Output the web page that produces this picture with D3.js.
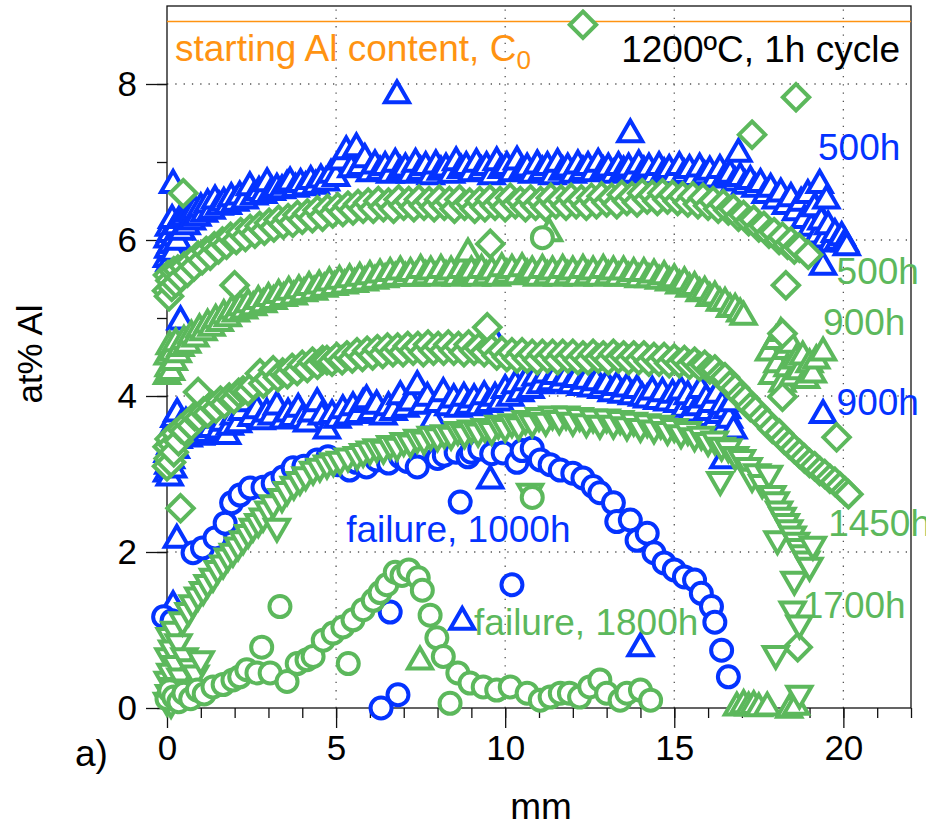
<!DOCTYPE html>
<html>
<head>
<meta charset="utf-8">
<script src="https://cdn.jsdelivr.net/npm/d3@7"></script>
<style>
  html, body { margin: 0; padding: 0; background: #fff; }
  svg { display: block; font-family: "Liberation Sans", Arial, Helvetica, sans-serif; }
</style>
</head>
<body>
<svg id="chart" width="926" height="824"></svg>
<script>
// Al concentration profiles (at% Al) across the specimen, 1200 °C, 1 h cycles.
// Each series is a list of [mm, at% Al] measurements.

const startingAl = 8.8;

const blue500h = [
  [0.00,5.80],[0.02,6.05],[0.04,5.92],[0.06,6.20],[0.08,5.75],[0.10,6.12],[0.12,5.98],[0.15,6.30],[0.18,6.75],[0.20,5.88],
  [0.24,6.08],[0.28,6.22],[0.32,6.02],[0.38,6.30],[0.40,5.00],[0.44,6.15],[0.50,6.33],[0.58,6.22],[0.66,6.38],[0.74,6.28],
  [0.82,6.42],[0.90,6.33],[1.00,6.45],[1.10,6.38],[1.20,6.50],[1.32,6.42],[1.42,6.55],[1.55,6.47],[1.68,6.52],[1.80,6.48],
  [1.90,6.58],[2.02,6.52],[2.15,6.60],[2.30,6.55],[2.45,6.72],[2.58,6.60],[2.72,6.66],[2.85,6.62],[2.96,6.77],[3.10,6.66],
  [3.25,6.70],[3.40,6.68],[3.55,6.74],[3.64,6.78],[3.80,6.70],[3.95,6.76],[4.10,6.72],[4.25,6.80],[4.40,6.74],[4.55,6.82],
  [4.70,6.78],[4.85,6.88],[5.00,6.84],[5.15,7.05],[5.30,7.18],[5.45,6.95],[5.60,7.22],[5.72,6.98],[5.85,7.08],[6.00,6.90],
  [6.15,7.00],[6.30,6.92],[6.45,6.98],[6.60,6.88],[6.75,7.02],[6.80,7.90],[6.90,6.92],[7.05,6.96],[7.20,6.88],[7.35,7.02],
  [7.50,6.92],[7.65,6.98],[7.80,6.86],[7.95,7.00],[8.10,6.92],[8.25,6.96],[8.40,6.88],[8.55,7.04],[8.70,6.94],[8.85,6.98],
  [9.00,6.90],[9.15,7.02],[9.30,6.92],[9.45,6.98],[9.60,6.86],[9.75,7.04],[9.90,6.94],[10.05,6.98],[10.20,6.90],[10.35,7.05],
  [10.50,6.92],[10.65,6.96],[10.80,6.88],[10.95,7.00],[11.10,6.92],[11.25,6.98],[11.40,6.86],[11.55,7.02],[11.70,6.92],[11.85,6.96],
  [12.00,6.88],[12.15,7.00],[12.30,6.92],[12.45,6.98],[12.60,6.90],[12.75,7.02],[12.90,6.92],[13.05,6.96],[13.20,6.88],[13.35,6.98],
  [13.50,6.92],[13.65,6.96],[13.70,7.40],[13.80,6.88],[13.95,7.00],[14.10,6.92],[14.25,6.96],[14.40,6.86],[14.55,6.98],[14.70,6.90],
  [14.85,6.94],[15.00,6.86],[15.15,6.98],[15.30,6.88],[15.45,6.94],[15.60,6.84],[15.75,6.96],[15.90,6.86],[16.05,6.92],[16.20,6.82],
  [16.35,6.94],[16.50,6.84],[16.65,6.88],[16.80,6.78],[16.90,7.15],[16.95,6.84],[17.10,6.74],[17.25,6.80],[17.40,6.70],[17.55,6.76],
  [17.70,6.62],[17.85,6.70],[18.00,6.55],[18.15,6.64],[18.30,6.48],[18.45,6.58],[18.60,6.40],[18.75,6.52],[18.85,6.30],[18.95,6.62],
  [19.05,6.20],[19.15,6.45],[19.25,6.10],[19.30,6.75],[19.35,6.28],[19.40,5.70],[19.45,6.05],[19.50,6.55],[19.55,6.22],[19.65,6.00],
  [19.75,6.12],[19.85,6.02],[19.95,6.08],[20.05,6.00],[20.10,5.95]
];

const blue900h = [
  [0.00,3.05],[0.02,3.30],[0.04,3.15],[0.06,3.50],[0.08,3.00],[0.10,3.40],[0.12,3.22],[0.15,3.62],[0.18,3.10],[0.22,3.75],
  [0.26,3.35],[0.30,3.82],[0.34,3.48],[0.40,3.66],[0.48,3.55],[0.56,3.70],[0.64,3.50],[0.77,3.73],[0.88,3.60],[1.00,3.52],
  [1.10,3.68],[1.18,3.56],[1.30,3.62],[1.42,3.74],[1.55,3.60],[1.66,3.70],[1.78,3.53],[1.86,3.65],[1.98,3.78],[2.10,3.68],
  [2.22,3.84],[2.37,3.95],[2.50,3.76],[2.66,3.86],[2.80,3.72],[2.95,3.82],[3.10,3.78],[3.25,3.91],[3.43,3.73],[3.58,3.82],
  [3.72,3.76],[3.88,3.88],[4.00,3.74],[4.14,3.69],[4.28,3.82],[4.44,3.95],[4.58,3.78],[4.73,3.60],[4.88,3.80],[5.04,3.74],
  [5.20,3.86],[5.35,3.78],[5.50,3.90],[5.65,3.80],[5.80,3.94],[5.90,3.99],[6.05,3.84],[6.20,3.92],[6.40,3.78],[6.55,3.90],
  [6.70,3.84],[6.90,4.04],[7.05,3.88],[7.20,3.96],[7.40,4.17],[7.55,3.92],[7.70,4.02],[7.87,3.73],[8.00,3.94],[8.17,4.08],
  [8.32,3.90],[8.48,4.00],[8.62,3.88],[8.78,4.02],[8.92,3.92],[9.08,4.00],[9.22,3.90],[9.38,4.04],[9.52,3.94],[9.67,4.76],
  [9.70,4.02],[9.85,3.96],[10.00,4.12],[10.15,4.02],[10.30,4.18],[10.45,4.08],[10.60,4.22],[10.75,4.12],[10.90,4.28],[11.05,4.18],
  [11.20,4.32],[11.35,4.22],[11.50,4.30],[11.65,4.20],[11.80,4.28],[11.95,4.18],[12.10,4.26],[12.25,4.16],[12.40,4.24],[12.55,4.14],
  [12.70,4.22],[12.85,4.12],[13.00,4.18],[13.15,4.08],[13.30,4.16],[13.45,4.06],[13.60,4.14],[13.75,4.04],[13.90,4.12],[14.05,4.02],
  [14.20,4.00],[14.35,4.10],[14.50,3.98],[14.65,4.08],[14.80,3.96],[14.95,4.06],[15.10,3.94],[15.20,4.10],[15.30,3.88],[15.40,4.04],
  [15.50,3.82],[15.60,3.98],[15.70,3.90],[15.78,4.12],[15.86,3.76],[15.94,4.00],[16.02,3.84],[16.10,3.94],[16.18,3.70],[16.26,4.06],
  [16.34,3.80],[16.42,3.92],[16.50,3.66],[16.56,3.86],[16.62,3.74],[16.70,3.95],[16.75,3.60],[16.45,3.22],[19.40,3.80],
  [0.29,2.20],[0.18,1.35],[9.56,2.96],[8.73,1.15],[14.00,0.81]
];

const blueFailure1000h = [
  [-0.10,1.17],[0.15,1.12],[0.77,1.99],[1.05,2.05],[1.42,2.18],[1.72,2.37],[1.91,2.63],[2.16,2.73],[2.46,2.82],[2.84,2.83],
  [3.14,2.88],[3.43,2.96],[3.73,3.08],[4.05,3.10],[4.44,3.18],[4.76,3.22],[5.05,3.12],[5.40,3.05],[5.60,3.15],[5.90,3.09],
  [6.20,3.18],[6.55,3.14],[6.90,3.22],[7.10,3.16],[7.40,3.09],[7.90,3.30],[8.00,3.20],[8.20,3.24],[8.55,3.28],[8.90,3.22],
  [9.00,3.28],[9.25,3.32],[9.60,3.26],[9.94,3.27],[10.35,3.15],[10.50,3.30],[10.80,3.33],[11.04,3.18],[11.33,3.12],[11.63,3.05],
  [12.00,3.01],[12.30,2.95],[12.60,2.84],[12.80,2.76],[13.20,2.63],[13.30,2.39],[13.70,2.41],[13.90,2.15],[14.20,2.24],[14.40,1.99],
  [14.70,1.86],[15.00,1.77],[15.30,1.68],[15.60,1.64],[15.80,1.47],[16.10,1.30],[16.20,1.10],[16.40,0.74],[16.60,0.40],
  [8.67,2.64],[10.20,1.58],[6.33,0.00],[6.83,0.17],[6.60,1.23]
];

const green500h = [
  [0.00,5.35],[0.03,5.55],[0.06,5.28],[0.10,5.48],[0.14,5.40],[0.20,5.60],[0.26,5.45],[0.32,5.62],[0.40,5.52],[0.48,6.60],
  [0.50,5.66],[0.60,5.58],[0.70,5.72],[0.80,5.66],[0.92,5.80],[1.04,5.74],[1.16,5.86],[1.28,5.80],[1.40,5.92],[1.52,5.88],
  [1.64,5.98],[1.76,5.94],[1.88,6.04],[2.00,5.42],[2.05,6.00],[2.18,6.10],[2.32,6.04],[2.46,6.14],[2.60,6.08],[2.74,6.18],
  [2.88,6.12],[3.02,6.22],[3.16,6.16],[3.30,6.26],[3.44,6.20],[3.58,6.28],[3.72,6.22],[3.86,6.32],[4.00,6.26],[4.15,6.34],
  [4.30,6.28],[4.45,6.38],[4.60,6.30],[4.75,6.40],[4.90,6.34],[5.05,6.42],[5.20,6.36],[5.35,6.44],[5.50,6.38],[5.65,6.46],
  [5.80,6.40],[5.95,6.48],[6.10,6.40],[6.25,6.50],[6.40,6.42],[6.55,6.48],[6.70,6.40],[6.85,6.52],[7.00,6.44],[7.15,6.50],
  [7.30,6.42],[7.45,6.52],[7.60,6.44],[7.75,6.50],[7.90,6.42],[8.05,6.52],[8.20,6.44],[8.35,6.50],[8.50,6.40],[8.65,6.52],
  [8.80,6.44],[8.95,6.48],[9.10,6.40],[9.25,6.50],[9.40,6.42],[9.56,5.95],[9.55,6.52],[9.70,6.44],[9.85,6.50],[10.00,6.42],
  [10.15,6.54],[10.30,6.46],[10.45,6.50],[10.60,6.42],[10.75,6.52],[10.90,6.44],[11.05,6.50],[11.20,6.42],[11.35,6.54],[11.50,6.46],
  [11.65,6.52],[11.80,6.44],[11.95,6.54],[12.10,6.46],[12.25,6.52],[12.30,8.76],[12.40,6.44],[12.55,6.54],[12.70,6.46],[12.85,6.56],
  [13.00,6.48],[13.15,6.54],[13.30,6.46],[13.45,6.58],[13.60,6.50],[13.75,6.56],[13.90,6.48],[14.05,6.60],[14.20,6.52],[14.35,6.58],
  [14.50,6.50],[14.65,6.60],[14.80,6.52],[14.95,6.58],[15.10,6.50],[15.25,6.56],[15.40,6.48],[15.55,6.56],[15.70,6.46],[15.85,6.54],
  [16.00,6.44],[16.15,6.50],[16.30,6.40],[16.45,6.46],[16.60,6.38],[16.75,6.40],[16.90,6.30],[17.05,6.32],[17.20,6.24],[17.30,7.35],
  [17.35,6.26],[17.50,6.16],[17.65,6.18],[17.80,6.08],[17.95,6.10],[18.10,6.00],[18.20,6.04],[18.30,5.42],[18.35,5.94],[18.45,5.98],
  [18.55,5.88],[18.60,7.83],[18.70,5.90],[18.96,5.81]
];

const green900h = [
  [0.00,4.30],[0.02,4.55],[0.05,4.40],[0.08,4.68],[0.12,4.35],[0.16,4.60],[0.20,4.48],[0.26,4.72],[0.32,4.58],[0.40,4.66],
  [0.50,4.75],[0.60,4.70],[0.72,4.82],[0.84,4.78],[0.96,4.90],[1.08,4.86],[1.20,4.96],[1.32,4.92],[1.44,5.02],[1.56,4.98],
  [1.68,5.08],[1.80,5.04],[1.92,5.14],[2.04,5.10],[2.16,5.18],[2.28,5.14],[2.40,5.22],[2.55,5.18],[2.70,5.26],[2.85,5.22],
  [3.00,5.30],[3.15,5.26],[3.30,5.34],[3.45,5.30],[3.60,5.38],[3.75,5.32],[3.90,5.40],[4.05,5.36],[4.20,5.44],[4.35,5.38],
  [4.50,5.46],[4.65,5.42],[4.80,5.50],[4.95,5.44],[5.10,5.52],[5.25,5.46],[5.40,5.54],[5.55,5.48],[5.70,5.56],[5.85,5.50],
  [6.00,5.58],[6.15,5.52],[6.30,5.60],[6.45,5.54],[6.60,5.62],[6.75,5.56],[6.90,5.64],[7.05,5.56],[7.20,5.62],[7.35,5.56],
  [7.50,5.66],[7.65,5.58],[7.80,5.64],[7.95,5.56],[8.10,5.66],[8.25,5.58],[8.40,5.64],[8.55,5.56],[8.70,5.66],[8.85,5.60],
  [8.90,5.87],[9.00,5.64],[9.15,5.56],[9.30,5.66],[9.45,5.58],[9.60,5.64],[9.75,5.56],[9.90,5.68],[10.05,5.60],[10.20,5.66],
  [10.35,5.58],[10.50,5.68],[10.65,5.60],[10.80,5.64],[10.95,5.56],[11.10,5.66],[11.25,5.58],[11.30,6.13],[11.40,5.64],[11.55,5.56],
  [11.70,5.66],[11.85,5.58],[12.00,5.64],[12.15,5.56],[12.30,5.66],[12.45,5.58],[12.60,5.64],[12.75,5.56],[12.90,5.66],[13.05,5.58],
  [13.20,5.64],[13.35,5.56],[13.50,5.64],[13.65,5.56],[13.80,5.62],[13.95,5.54],[14.10,5.62],[14.25,5.54],[14.40,5.60],[14.55,5.52],
  [14.70,5.58],[14.85,5.50],[15.00,5.54],[15.15,5.46],[15.30,5.50],[15.45,5.42],[15.60,5.44],[15.75,5.36],[15.90,5.38],[16.05,5.30],
  [16.20,5.32],[16.35,5.24],[16.50,5.24],[16.65,5.16],[16.80,5.16],[16.95,5.10],[17.05,5.06],
  [17.80,4.60],[17.90,4.30],[18.00,4.75],[18.05,4.45],[18.15,4.85],[18.20,4.20],[18.30,4.62],[18.35,4.40],[18.45,4.70],[18.50,4.28],
  [18.60,4.50],[18.70,4.36],[18.80,4.55],[18.90,4.25],[19.00,4.45],[19.10,4.32],[19.20,4.50],[19.40,4.60],
  [7.48,0.64],[16.85,0.05],[17.05,0.08],[17.20,0.05],[17.35,0.07],[17.50,0.04],[17.75,0.05],[18.40,0.02],[18.60,0.06]
];

const green1450h = [
  [0.00,3.10],[0.02,3.35],[0.05,3.20],[0.08,3.45],[0.12,3.15],[0.16,3.38],[0.20,3.28],[0.26,3.52],[0.34,3.42],[0.40,2.56],
  [0.42,3.58],[0.52,3.55],[0.62,3.66],[0.72,3.62],[0.82,3.74],[0.92,4.05],[0.95,3.72],[1.08,3.80],[1.20,3.78],[1.32,3.88],
  [1.45,3.84],[1.58,3.94],[1.70,3.90],[1.84,3.98],[1.98,3.96],[2.12,4.04],[2.25,4.07],[2.40,4.06],[2.55,4.14],[2.75,4.29],
  [2.85,4.16],[3.00,4.22],[3.14,4.33],[3.28,4.24],[3.42,4.30],[3.56,4.28],[3.70,4.36],[3.85,4.32],[4.00,4.40],[4.15,4.36],
  [4.30,4.44],[4.45,4.40],[4.60,4.46],[4.73,4.46],[4.88,4.44],[5.02,4.50],[5.18,4.46],[5.32,4.52],[5.48,4.48],[5.62,4.56],
  [5.78,4.50],[5.92,4.58],[6.08,4.52],[6.22,4.60],[6.38,4.54],[6.52,4.62],[6.68,4.56],[6.82,4.62],[6.98,4.56],[7.12,4.64],
  [7.28,4.58],[7.42,4.64],[7.58,4.56],[7.72,4.66],[7.88,4.58],[8.02,4.64],[8.18,4.58],[8.32,4.66],[8.48,4.58],[8.62,4.64],
  [8.78,4.56],[8.92,4.66],[9.08,4.58],[9.22,4.62],[9.38,4.56],[9.47,4.88],[9.60,4.60],[9.75,4.52],[9.90,4.58],[10.05,4.50],
  [10.20,4.56],[10.35,4.48],[10.50,4.56],[10.65,4.48],[10.80,4.54],[10.95,4.46],[11.10,4.54],[11.25,4.48],[11.40,4.54],[11.55,4.46],
  [11.70,4.54],[11.85,4.48],[12.00,4.54],[12.15,4.46],[12.30,4.52],[12.45,4.46],[12.60,4.54],[12.75,4.48],[12.90,4.52],[13.05,4.46],
  [13.20,4.54],[13.35,4.48],[13.50,4.52],[13.65,4.46],[13.80,4.52],[13.95,4.46],[14.10,4.52],[14.25,4.44],[14.40,4.50],[14.55,4.44],
  [14.70,4.50],[14.85,4.42],[15.00,4.48],[15.15,4.42],[15.30,4.46],[15.45,4.40],[15.60,4.44],[15.75,4.38],[15.90,4.40],[16.05,4.34],
  [16.20,4.34],[16.35,4.26],[16.50,4.24],[16.65,4.14],[16.80,4.10],[16.95,4.00],[17.10,3.96],[17.25,3.86],[17.40,3.82],[17.60,3.72],
  [17.75,3.66],[17.90,3.58],[18.10,3.52],[18.25,3.44],[18.40,3.38],[18.55,3.32],[18.70,3.26],[18.85,3.20],[19.00,3.14],[19.15,3.10],
  [19.30,3.04],[19.45,3.00],[19.60,2.94],[19.75,2.90],[19.90,2.84],[20.05,2.78],[20.15,2.74],
  [19.80,3.47],[18.20,3.99],[18.20,4.80],[18.65,0.78]
];

const green1700h = [
  [0.00,0.05],[0.02,0.32],[0.04,0.62],[0.06,0.15],[0.08,0.88],[0.10,0.42],[0.12,0.02],[0.15,0.72],[0.18,0.24],[0.22,0.96],
  [0.26,0.52],[0.30,0.10],[0.34,0.80],[0.40,0.36],[0.46,1.08],[0.52,0.62],[0.58,0.22],[0.64,1.20],[0.70,0.48],[0.76,1.30],
  [0.84,0.40],[0.92,1.40],[1.00,0.58],[1.07,1.47],[1.20,1.56],[1.36,1.64],[1.50,1.74],[1.66,1.81],[1.80,1.90],[1.95,1.96],
  [2.10,2.04],[2.25,2.12],[2.40,2.20],[2.54,2.28],[2.70,2.34],[2.84,2.41],[3.00,2.50],[3.14,2.58],[3.25,2.28],[3.40,2.66],
  [3.55,2.75],[3.75,2.82],[3.93,2.88],[4.10,2.94],[4.32,3.01],[4.52,3.05],[4.73,3.09],[4.92,3.12],[5.12,3.14],[5.35,3.18],
  [5.62,3.20],[5.80,3.24],[6.00,3.27],[6.20,3.30],[6.40,3.28],[6.60,3.34],[6.80,3.32],[7.00,3.38],[7.20,3.36],[7.40,3.42],
  [7.60,3.40],[7.80,3.46],[8.00,3.44],[8.20,3.48],[8.40,3.46],[8.60,3.52],[8.80,3.48],[9.00,3.54],[9.20,3.50],[9.40,3.56],
  [9.60,3.52],[9.80,3.60],[10.00,3.56],[10.20,3.62],[10.40,3.58],[10.60,3.66],[10.74,2.73],[10.80,3.62],[11.00,3.70],[11.20,3.64],
  [11.40,3.72],[11.60,3.66],[11.80,3.72],[12.00,3.64],[12.20,3.70],[12.40,3.62],[12.60,3.68],[12.80,3.60],[13.00,3.68],[13.20,3.60],
  [13.40,3.66],[13.60,3.58],[13.80,3.64],[14.00,3.56],[14.20,3.62],[14.40,3.54],[14.60,3.60],[14.80,3.52],[15.00,3.56],[15.20,3.48],
  [15.40,3.52],[15.60,3.44],[15.80,3.46],[16.00,3.38],[16.20,3.40],[16.36,2.88],[16.40,3.32],[16.60,3.30],[16.80,3.20],[17.00,3.16],
  [17.20,3.06],[17.30,2.92],[17.45,2.98],[17.60,2.84],[17.80,2.96],[17.90,2.70],[18.00,2.62],[18.05,2.12],[18.10,2.50],[18.20,2.42],
  [18.30,2.34],[18.40,2.26],[18.50,2.18],[18.55,1.60],[18.60,2.10],[18.70,2.02],[18.80,1.94],[18.90,1.86],[19.00,1.78],[19.10,2.05],
  [18.50,1.22],[18.70,1.04],[18.00,0.65],[18.70,0.14]
];

const greenFailure1800h = [
  [0.00,0.12],[0.08,0.22],[0.20,0.14],[0.35,0.08],[0.50,0.19],[0.70,0.12],[0.90,0.23],[1.10,0.18],[1.36,0.27],[1.66,0.30],
  [1.95,0.36],[2.15,0.40],[2.36,0.49],[2.66,0.45],[2.80,0.78],[3.05,0.45],[3.34,1.30],[3.55,0.34],[3.85,0.57],[4.14,0.62],
  [4.32,0.66],[4.62,0.87],[4.91,0.96],[5.20,1.04],[5.36,0.57],[5.50,1.13],[5.80,1.26],[6.10,1.38],[6.30,1.48],[6.50,1.58],
  [6.75,1.74],[6.95,1.70],[7.15,1.77],[7.43,1.67],[7.55,1.51],[7.78,1.19],[7.98,0.90],[8.17,0.66],[8.37,0.06],[8.60,0.45],
  [8.96,0.32],[9.35,0.27],[9.75,0.23],[10.15,0.27],[10.65,0.19],[10.80,2.70],[11.04,0.10],[11.10,6.03],[11.33,0.14],[11.63,0.19],
  [11.90,0.19],[12.20,0.14],[12.50,0.27],[12.80,0.36],[13.00,0.19],[13.40,0.10],[13.60,0.19],[14.00,0.23],[14.30,0.10]
];

const xTicks = [0, 5, 10, 15, 20];
const yTicks = [0, 2, 4, 6, 8];

// Series drawn in order; later ones sit on top.
const series = [
  { data: blue500h,          color: "#0433ff", marker: "triUp" },
  { data: blue900h,          color: "#0433ff", marker: "triUp" },
  { data: blueFailure1000h,  color: "#0433ff", marker: "circle" },
  { data: green500h,         color: "#5cb85c", marker: "diamond" },
  { data: green900h,         color: "#5cb85c", marker: "triUp" },
  { data: green1450h,        color: "#5cb85c", marker: "diamond" },
  { data: green1700h,        color: "#5cb85c", marker: "triDown" },
  { data: greenFailure1800h, color: "#5cb85c", marker: "circle" }
];

// Series labels, anchored in data units (left edge, baseline).
const seriesLabels = [
  { text: "500h",           x: 19.25, y: 7.03, color: "#0433ff" },
  { text: "500h",           x: 19.80, y: 5.44, color: "#5cb85c" },
  { text: "900h",           x: 19.40, y: 4.78, color: "#5cb85c" },
  { text: "900h",           x: 19.80, y: 3.76, color: "#0433ff" },
  { text: "1450h",          x: 19.55, y: 2.20, color: "#5cb85c" },
  { text: "1700h",          x: 18.80, y: 1.15, color: "#5cb85c" },
  { text: "failure, 1000h", x: 5.30,  y: 2.13, color: "#0433ff" },
  { text: "failure, 1800h", x: 9.08,  y: 0.94, color: "#5cb85c" }
];

const svg = d3.select("#chart");
const x = d3.scaleLinear().domain([0, 22]).range([167, 911]);
const y = d3.scaleLinear().domain([0, 9]).range([708, 6]);
const [x0, x1] = x.range();
const [y0, y1] = y.range();
const tickFont = 35;
const orange = "#ff9312";

// dotted grid at major ticks
const grid = svg.append("g").attr("stroke", "#555").attr("stroke-width", 1.3)
  .attr("stroke-dasharray", "1.3,7");
grid.selectAll("line.gx").data(xTicks.filter(d => d > 0)).join("line")
  .attr("x1", d => x(d)).attr("x2", d => x(d)).attr("y1", y0).attr("y2", y1);
grid.selectAll("line.gy").data(yTicks.filter(d => d > 0)).join("line")
  .attr("y1", d => y(d)).attr("y2", d => y(d)).attr("x1", x0).attr("x2", x1);

// frame
svg.append("rect").attr("x", x0).attr("y", y1).attr("width", x1 - x0).attr("height", y0 - y1)
  .attr("fill", "none").attr("stroke", "#111").attr("stroke-width", 1.3);

// axes: major ticks with labels, minor ticks every unit
function styleAxis(g) {
  g.select(".domain").remove();
  g.selectAll("line").attr("stroke", "#111").attr("stroke-width", 1.3);
  g.selectAll("text").attr("font-size", tickFont).attr("fill", "#000")
    .attr("font-family", "'Liberation Sans', Arial, Helvetica, sans-serif");
}
svg.append("g").attr("transform", `translate(0,${y0})`)
  .call(d3.axisBottom(x).tickValues(d3.range(0, 23)).tickSize(10).tickFormat(""))
  .call(styleAxis);
svg.append("g").attr("transform", `translate(0,${y0})`)
  .call(d3.axisBottom(x).tickValues(xTicks).tickSize(20).tickPadding(7).tickFormat(d3.format("d")))
  .call(styleAxis);
svg.append("g").attr("transform", `translate(${x0},0)`)
  .call(d3.axisLeft(y).tickValues(d3.range(0, 9)).tickSize(10).tickFormat(""))
  .call(styleAxis);
svg.append("g").attr("transform", `translate(${x0},0)`)
  .call(d3.axisLeft(y).tickValues(yTicks).tickSize(21).tickPadding(9).tickFormat(d3.format("d")))
  .call(styleAxis);

// starting Al content line
svg.append("line").attr("x1", x0).attr("x2", x1)
  .attr("y1", y(startingAl)).attr("y2", y(startingAl))
  .attr("stroke", orange).attr("stroke-width", 1.5);

// markers: open symbols with white interior
const markerPaths = {
  triUp:   "M0,-10.4L12,10.4L-12,10.4Z",
  triDown: "M0,10.4L12,-10.4L-12,-10.4Z",
  diamond: "M0,-13.2L13.2,0L0,13.2L-13.2,0Z"
};
const marks = svg.append("g");
series.forEach(s => {
  const g = marks.append("g").attr("stroke", s.color).attr("stroke-width", 4).attr("fill", "#fff");
  if (s.marker === "circle") {
    g.selectAll("circle").data(s.data).join("circle")
      .attr("cx", d => x(d[0])).attr("cy", d => y(d[1])).attr("r", 10.5);
  } else {
    g.selectAll("path").data(s.data).join("path")
      .attr("d", markerPaths[s.marker])
      .attr("transform", d => `translate(${x(d[0])},${y(d[1])})`);
  }
});

// text
const txt = svg.append("g").attr("font-size", 37);
const c0 = txt.append("text").attr("x", 175).attr("y", 61).attr("fill", orange)
  .text("starting Al content, C");
c0.append("tspan").attr("font-size", 26).attr("dy", 8).text("0");
txt.append("text").attr("x", 900).attr("y", 62).attr("text-anchor", "end").attr("fill", "#000")
  .text("1200ºC, 1h cycle");
txt.selectAll("text.series").data(seriesLabels).join("text").attr("class", "series")
  .attr("x", d => x(d.x)).attr("y", d => y(d.y)).attr("fill", d => d.color).text(d => d.text);
txt.append("text").attr("transform", "translate(42,354) rotate(-90)").attr("text-anchor", "middle")
  .attr("font-size", 35).attr("fill", "#000").text("at% Al");
txt.append("text").attr("x", 541).attr("y", 819).attr("text-anchor", "middle").attr("fill", "#000").text("mm");
txt.append("text").attr("x", 75).attr("y", 766).attr("fill", "#000").text("a)");
</script>
</body>
</html>
